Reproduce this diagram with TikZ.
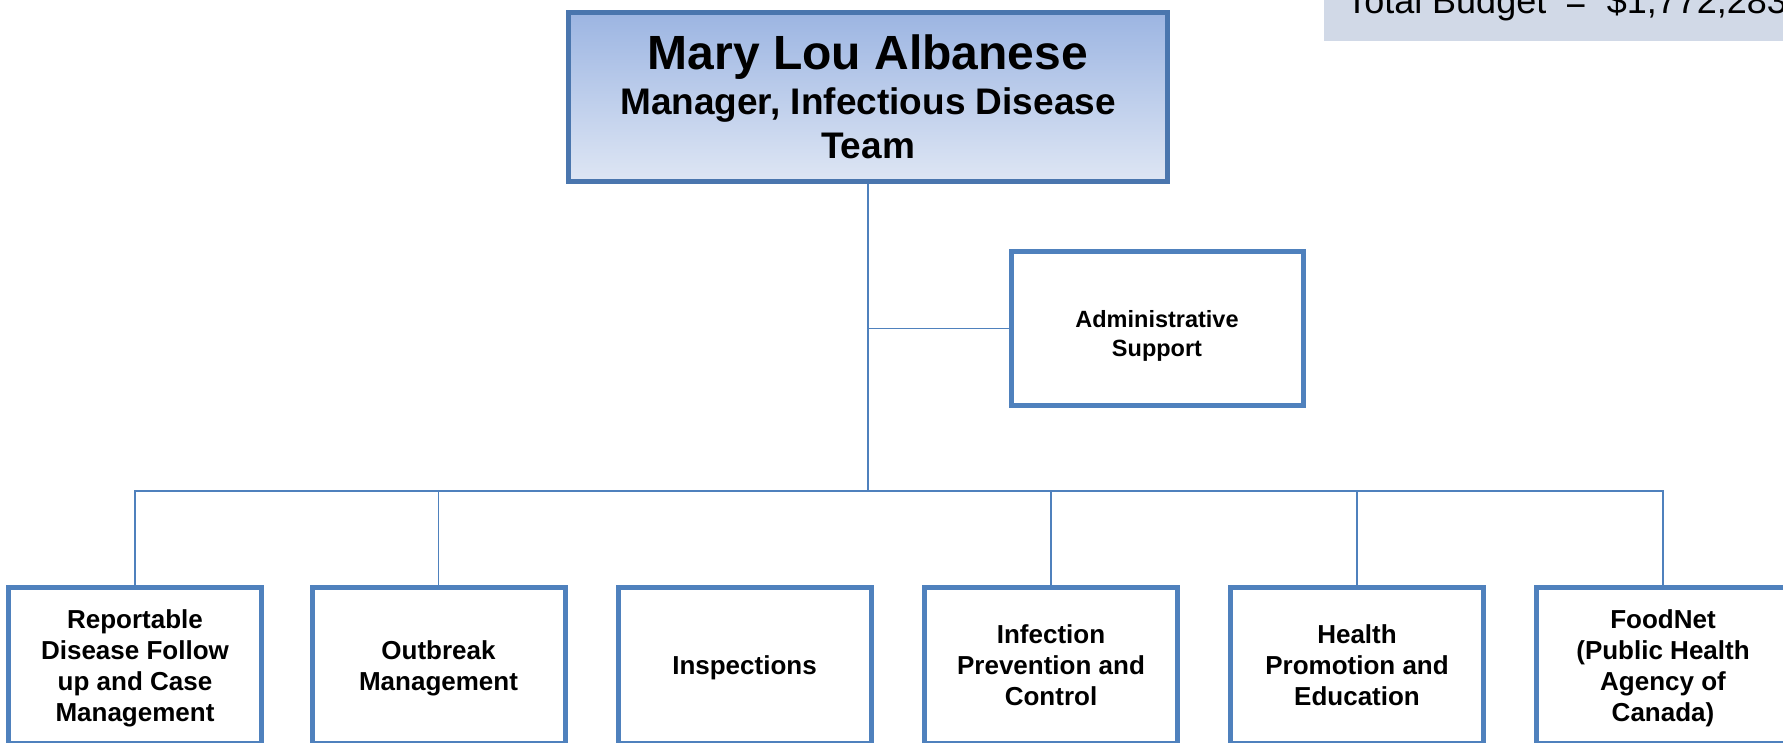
\documentclass[tikz,border=0pt]{standalone}
\usepackage{fontspec}
\setmainfont{Liberation Sans}
\definecolor{boxblue}{HTML}{4F81BD}
\definecolor{topblue}{HTML}{4A76AE}
\definecolor{gradtop}{HTML}{9CB5E2}
\definecolor{gradbot}{HTML}{DEE6F4}
\definecolor{budgetfill}{HTML}{D1D9E7}
\newcommand{\shifted}[2]{\raisebox{#1}[\height][\depth]{\begin{tabular}{@{}c@{}}#2\end{tabular}}}
\begin{document}
\begin{tikzpicture}[x=1pt,y=-1pt,
  unitbox/.style={draw=boxblue, line width=5pt, fill=white, rectangle, align=center,
    inner sep=0pt, font=\bfseries\fontsize{26}{31}\selectfont},
  link/.style={draw=boxblue, line width=1.8pt}]
\useasboundingbox (0,0) rectangle (1783,742);
% budget box
\fill[budgetfill] (1324,-5) rectangle (1790,41);
\node[anchor=base west, inner sep=0pt, font=\fontsize{36}{40}\selectfont] (budget) at (1346,13)
  {Total Budget\hspace{19pt}=\hspace{20.5pt}\$1,772,283};
% manager
\node[draw=topblue, line width=5pt, top color=gradtop, bottom color=gradbot, rectangle,
  minimum width=599pt, minimum height=169pt, inner sep=0pt, align=center,
  font=\bfseries\fontsize{37}{44}\selectfont] (mgr) at (868,97)
  {{\fontsize{48}{45}\selectfont Mary Lou Albanese}\\[1pt]
   Manager, Infectious Disease\\ Team};
% admin
\node[unitbox, minimum width=292pt, minimum height=154pt,
  font=\bfseries\fontsize{23.5}{28.5}\selectfont] (admin) at (1157,328.5)
  {\shifted{-8pt}{Administrative\\Support}};
% bottom units
\foreach \n/\x/\t in {u1/135/{Reportable\\Disease Follow\\up and Case\\Management},
                      u2/438.5/{Outbreak\\Management},
                      u3/744.5/{Inspections},
                      u4/1051/{Infection\\Prevention and\\Control},
                      u5/1357/{Health\\Promotion and\\Education},
                      u6/1663/{FoodNet\\(Public Health\\Agency of\\Canada)}}
  \node[unitbox, minimum width=253pt, minimum height=156pt] (\n) at (\x,665.5) {\shifted{-3pt}{\t}};
% connectors
\coordinate (bus) at (mgr.south |- 0,491);
\draw[link] (mgr.south) -- (bus);
\draw[link] (mgr.south |- admin.west) -- (admin.west);
\draw[link] (u1.north) |- (bus) -| (u6.north);
\draw[link] (u2.north) -- (u2.north |- bus);
\draw[link] (u4.north) -- (u4.north |- bus);
\draw[link] (u5.north) -- (u5.north |- bus);
\end{tikzpicture}
\end{document}
